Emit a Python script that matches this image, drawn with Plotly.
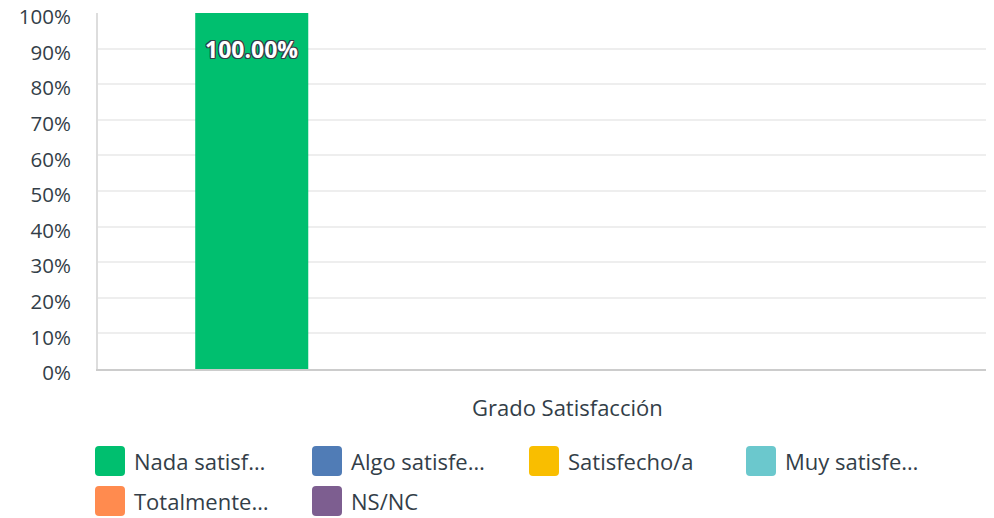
import plotly.graph_objects as go

categories = ["Grado Satisfacción"]
series_names = ["Nada satisf…", "Algo satisfe…", "Satisfecho/a", "Muy satisfe…", "Totalmente…", "NS/NC"]
series_values = [[100.0], [0.0], [0.0], [0.0], [0.0], [0.0]]
series_colors = ["#00bf6f", "#507cb6", "#f9be00", "#6bc8cd", "#ff8b4f", "#7d5e90"]
y_ticks = [0, 10, 20, 30, 40, 50, 60, 70, 80, 90, 100]
y_tick_labels = [f"{v}%" for v in y_ticks]

FONT = "Open Sans"
TEXT_COLOR = "#333e48"

# the page body adds an 8px margin, so the figure is sized to fill the window from there
OFF = 8
WIN_W, WIN_H = 994, 518
W, H = WIN_W - OFF, WIN_H - OFF
# plot area in window pixels: x 98..994, y 13..369
ML, MT = 98 - OFF, 13 - OFF
MR, MB = 0, H - (369 - OFF)
PW, PH = W - ML - MR, H - MT - MB
BARGAP = 0.243
X_RANGE = [-0.487, 0.513]

fig = go.Figure()
oc = "#333e48"
outline = ", ".join(f"{dx}px {dy}px 0 {oc}" for dx, dy in
                    [(1, 1), (-1, -1), (1, -1), (-1, 1), (0, 1), (0, -1), (1, 0), (-1, 0)])
for name, vals, col in zip(series_names, series_values, series_colors):
    fig.add_trace(go.Bar(
        x=categories, y=vals, name=name, marker=dict(color=col, line=dict(width=0)),
        showlegend=False, hoverinfo="skip",
    ))

# value labels placed inside the top of each non-zero bar (grouped-bar slot positions)
n = len(series_names)
group_w = 1 - BARGAP
for si, vals in enumerate(series_values):
    for ci, v in enumerate(vals):
        if v <= 0:
            continue
        xc = ci - group_w / 2 + group_w / n * (si + 0.5)
        fig.add_annotation(xref="x", yref="y", x=xc, y=v, yanchor="middle", yshift=-36,
                           text=f"{v:.2f}%", showarrow=False,
                           font=dict(family=FONT, size=23, color="white", weight=700, shadow=outline))

# custom legend (rounded swatches) laid out in a 4-column grid
col_w = 217
for i, (name, col) in enumerate(zip(series_names, series_colors)):
    r, c = divmod(i, 4)
    px = 95 - OFF + c * col_w
    py = 461 - OFF + r * 40
    xp = (px - ML) / PW
    yp = (H - MB - py) / PH
    fig.add_shape(type="path", xref="paper", yref="paper",
                  xsizemode="pixel", ysizemode="pixel", xanchor=xp, yanchor=yp,
                  path="M4,-15 H26 Q30,-15 30,-11 V11 Q30,15 26,15 H4 Q0,15 0,11 V-11 Q0,-15 4,-15 Z",
                  fillcolor=col, line=dict(width=0))
    fig.add_annotation(xref="paper", yref="paper", x=(px + 37 - ML) / PW, y=yp,
                       xanchor="left", yanchor="middle", text=name, showarrow=False,
                       font=dict(family=FONT, size=22, color=TEXT_COLOR, weight=400))

fig.update_layout(
    width=W, height=H, margin=dict(l=ML, r=MR, t=MT, b=MB, pad=0, autoexpand=False),
    barmode="group", bargap=BARGAP, bargroupgap=0,
    plot_bgcolor="white", paper_bgcolor="white",
    font=dict(family=FONT, color=TEXT_COLOR),
    showlegend=False,
    xaxis=dict(range=X_RANGE, showline=True, linecolor="#cccccc", linewidth=2,
               showgrid=False, ticks="", tickfont=dict(size=22, color=TEXT_COLOR, weight=400),
               ticklabelshift=33, ticklabelstandoff=19, fixedrange=True, automargin=False),
    yaxis=dict(range=[0, 100], tickmode="array", tickvals=y_ticks, ticktext=y_tick_labels,
               showline=True, linecolor="#dddddd", linewidth=2, gridcolor="#eeeeee", gridwidth=2,
               zeroline=False, ticks="", tickfont=dict(size=20.5, color=TEXT_COLOR, weight=400),
               ticklabeloverflow="allow", ticklabelstandoff=21, ticklabelshift=4,
               fixedrange=True, automargin=False),
)

fig.write_html("out.html")
